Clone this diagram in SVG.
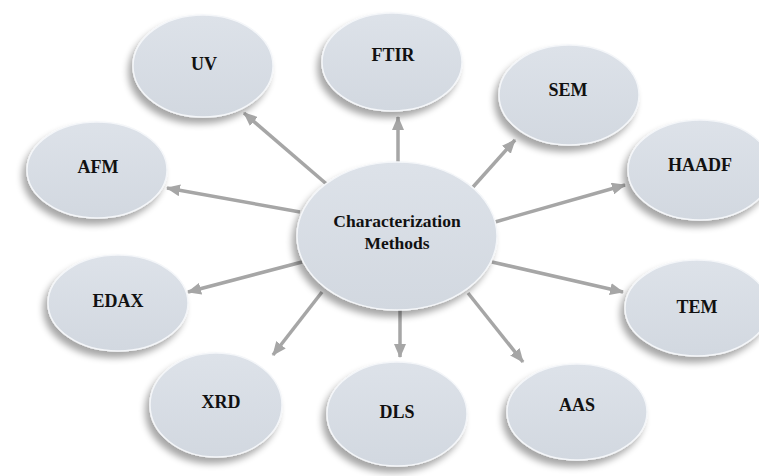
<svg xmlns="http://www.w3.org/2000/svg" width="759" height="476" viewBox="0 0 759 476">
<style>
.n{fill:url(#g);stroke:#f4f6f9;stroke-width:1.5;filter:url(#sh)}
.t{font-family:"Liberation Serif","DejaVu Serif",serif;font-weight:bold;font-size:18px;fill:#111;text-anchor:middle}
.c{font-size:17.5px}
.a{stroke:#a6a6a6;stroke-width:3.5;fill:none;marker-end:url(#ah)}
</style>
<defs>
<linearGradient id="g" x1="0" y1="0" x2="0" y2="1">
<stop offset="0" stop-color="#dde2e9"/>
<stop offset="1" stop-color="#d2d8e0"/>
</linearGradient>
<filter id="sh" x="-30%" y="-30%" width="160%" height="170%">
<feGaussianBlur in="SourceAlpha" stdDeviation="3.5"/>
<feOffset dx="-4" dy="6" result="b"/>
<feComponentTransfer><feFuncA type="linear" slope="0.35"/></feComponentTransfer>
<feMerge><feMergeNode/><feMergeNode in="SourceGraphic"/></feMerge>
</filter>
<marker id="ah" markerUnits="userSpaceOnUse" markerWidth="14" markerHeight="12" refX="13" refY="6" orient="auto">
<path d="M0,0 L14,6 L0,12 Z" fill="#a6a6a6"/>
</marker>
</defs>
<rect width="759" height="476" fill="#fff"/>
<g id="connectors">
<line class="a" x1="330" y1="187" x2="244" y2="113"/>
<line class="a" x1="398" y1="162" x2="398" y2="117"/>
<line class="a" x1="473" y1="187" x2="515" y2="140"/>
<line class="a" x1="300" y1="212" x2="167" y2="188"/>
<line class="a" x1="495" y1="222" x2="625" y2="185"/>
<line class="a" x1="302" y1="262" x2="188" y2="292"/>
<line class="a" x1="492" y1="262" x2="623" y2="292"/>
<line class="a" x1="322" y1="292" x2="273" y2="355"/>
<line class="a" x1="400" y1="310" x2="400" y2="357"/>
<line class="a" x1="468" y1="293" x2="523" y2="362"/>
</g>
<g id="center"><ellipse class="n" cx="397" cy="236" rx="100" ry="74"/><text class="t c" x="397" y="227">Characterization</text><text class="t c" x="397" y="249">Methods</text></g>
<g id="uv"><ellipse class="n" cx="203" cy="66" rx="70" ry="51"/><text class="t" x="204" y="70">UV</text></g>
<g id="ftir"><ellipse class="n" cx="392" cy="62" rx="70" ry="49"/><text class="t" x="393" y="61">FTIR</text></g>
<g id="sem"><ellipse class="n" cx="569" cy="95" rx="70" ry="50"/><text class="t" x="568" y="96">SEM</text></g>
<g id="haadf"><ellipse class="n" cx="700" cy="170" rx="72" ry="50"/><text class="t" x="700" y="171">HAADF</text></g>
<g id="afm"><ellipse class="n" cx="97" cy="170" rx="70" ry="48"/><text class="t" x="98" y="173">AFM</text></g>
<g id="edax"><ellipse class="n" cx="118" cy="303" rx="70" ry="48"/><text class="t" x="118" y="307">EDAX</text></g>
<g id="tem"><ellipse class="n" cx="697" cy="308" rx="72" ry="48"/><text class="t" x="697" y="313">TEM</text></g>
<g id="xrd"><ellipse class="n" cx="216" cy="405" rx="66" ry="52"/><text class="t" x="221" y="408">XRD</text></g>
<g id="dls"><ellipse class="n" cx="397" cy="414" rx="70" ry="52"/><text class="t" x="397" y="418">DLS</text></g>
<g id="aas"><ellipse class="n" cx="577" cy="412" rx="70" ry="48"/><text class="t" x="577" y="411">AAS</text></g>
</svg>
